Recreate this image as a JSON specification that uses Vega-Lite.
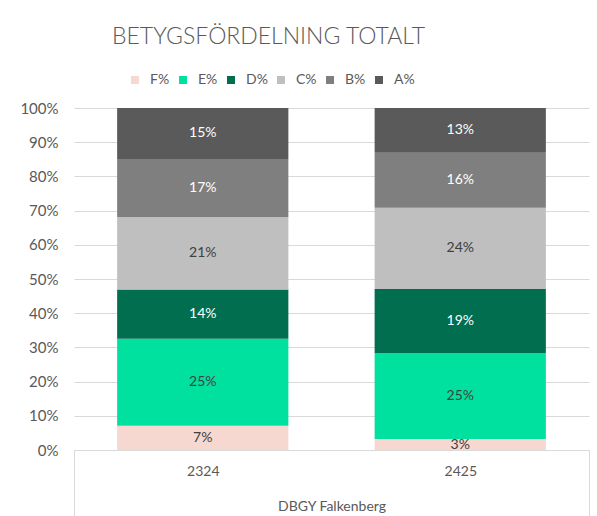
{
  "$schema": "https://vega.github.io/schema/vega-lite/v6.json",
  "width": 515,
  "height": 342,
  "autosize": {"type": "none"},
  "padding": {"left": 74, "top": 108, "right": 8, "bottom": 66},
  "background": "white",
  "title": {
    "text": "BETYGSFÖRDELNING TOTALT",
    "anchor": "middle",
    "frame": "group",
    "dx": -63,
    "offset": 24,
    "fontSize": 23,
    "fontWeight": 300,
    "font": "Lato",
    "color": "#595959"
  },
  "config": {"view": {"stroke": null}, "font": "Lato"},
  "data": {
    "values": [
      {"year": "2324", "grade": "F%", "k": 1, "pct": 0.071},
      {"year": "2324", "grade": "E%", "k": 2, "pct": 0.254},
      {"year": "2324", "grade": "D%", "k": 3, "pct": 0.144},
      {"year": "2324", "grade": "C%", "k": 4, "pct": 0.212},
      {"year": "2324", "grade": "B%", "k": 5, "pct": 0.170},
      {"year": "2324", "grade": "A%", "k": 6, "pct": 0.149},
      {"year": "2425", "grade": "F%", "k": 1, "pct": 0.032},
      {"year": "2425", "grade": "E%", "k": 2, "pct": 0.251},
      {"year": "2425", "grade": "D%", "k": 3, "pct": 0.188},
      {"year": "2425", "grade": "C%", "k": 4, "pct": 0.237},
      {"year": "2425", "grade": "B%", "k": 5, "pct": 0.161},
      {"year": "2425", "grade": "A%", "k": 6, "pct": 0.131}
    ]
  },
  "layer": [
    {
      "mark": {"type": "bar", "width": {"band": 0.665}},
      "encoding": {
        "x": {
          "field": "year",
          "type": "nominal",
          "title": "DBGY Falkenberg",
          "scale": {"paddingInner": 0, "paddingOuter": 0},
          "axis": {
            "labelAngle": 0,
            "labelFontSize": 14,
            "labelColor": "#595959",
            "labelPadding": -52,
            "labelBaseline": "top",
            "titleFontSize": 14,
            "titleColor": "#595959",
            "titleFontWeight": "normal",
            "titleY": 56,
            "titleBaseline": "middle",
            "domainColor": "#d9d9d9",
            "ticks": true,
            "tickBand": "extent",
            "tickSize": 66,
            "tickColor": {"condition": {"test": "datum.value === '2324'", "value": "transparent"}, "value": "#d9d9d9"},
            "grid": false
          }
        },
        "y": {
          "field": "pct",
          "type": "quantitative",
          "stack": "normalize",
          "title": null,
          "scale": {"domain": [0, 1]},
          "axis": {
            "values": [0, 0.1, 0.2, 0.3, 0.4, 0.5, 0.6, 0.7, 0.8, 0.9, 1],
            "format": ".0%",
            "labelOverlap": false,
            "domain": false,
            "ticks": false,
            "labelFontSize": 15,
            "labelColor": "#595959",
            "labelPadding": 16,
            "gridColor": "#d9d9d9"
          }
        },
        "color": {
          "field": "grade",
          "type": "nominal",
          "sort": ["F%", "E%", "D%", "C%", "B%", "A%"],
          "scale": {
            "domain": ["F%", "E%", "D%", "C%", "B%", "A%"],
            "range": ["#f7d8d0", "#00e19f", "#006e4f", "#bfbfbf", "#7f7f7f", "#5a5a5a"]
          },
          "legend": {
            "orient": "none",
            "legendX": 54,
            "legendY": -35,
            "direction": "horizontal",
            "title": null,
            "symbolType": "square",
            "symbolSize": 64,
            "symbolStrokeWidth": 0,
            "labelFontSize": 14,
            "labelColor": "#595959",
            "labelOffset": 8,
            "columnPadding": 6
          }
        },
        "order": {"field": "k", "type": "quantitative"}
      }
    },
    {
      "mark": {"type": "text", "fontSize": 14, "font": "Lato"},
      "encoding": {
        "x": {"field": "year", "type": "nominal"},
        "y": {
          "field": "pct",
          "type": "quantitative",
          "stack": "normalize",
          "bandPosition": 0.5,
          "title": null,
          "axis": {
            "values": [0, 0.1, 0.2, 0.3, 0.4, 0.5, 0.6, 0.7, 0.8, 0.9, 1],
            "format": ".0%",
            "labelOverlap": false,
            "domain": false,
            "ticks": false,
            "labelFontSize": 15,
            "labelColor": "#595959",
            "labelPadding": 16,
            "gridColor": "#d9d9d9"
          }
        },
        "detail": {"field": "grade", "type": "nominal"},
        "order": {"field": "k", "type": "quantitative"},
        "text": {"field": "pct", "type": "quantitative", "format": ".0%"},
        "color": {
          "condition": {"test": "datum.grade === 'A%' || datum.grade === 'B%' || datum.grade === 'D%'", "value": "white"},
          "value": "#404040"
        }
      }
    }
  ]
}
